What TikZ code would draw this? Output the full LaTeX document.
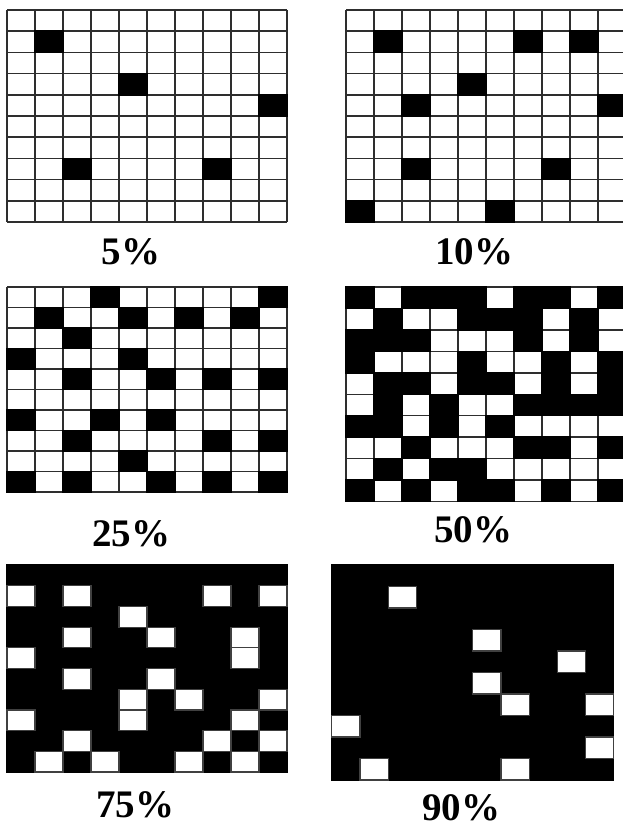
\documentclass[tikz,border=0pt]{standalone}
\usepackage{fontspec}
\setmainfont{Liberation Serif}
\tikzset{
  gridline/.style={draw=black!82, line width=1.5pt},
  blackcell/.style={fill=black, draw=black, line width=1.5pt},
  whitecell/.style={fill=white, draw=black!75, line width=1.2pt},
  pctlabel/.style={inner sep=0pt, font=\fontsize{39}{39}\selectfont\bfseries}
}
% light grid: white background, grid lines, black cells
\newcommand{\lightgrid}[5]{%
  \begin{scope}[shift={(#1,#2)}]
    \foreach \k in {0,...,10} {
      \draw[gridline] (\k*#3,0) -- (\k*#3,10*#4);
      \draw[gridline] (0,\k*#4) -- (10*#3,\k*#4);
    }
    \foreach \r/\c in {#5} {
      \path[blackcell] (\c*#3,\r*#4) rectangle ++(#3,#4);
    }
  \end{scope}}
% dark grid: black background, white cells
\newcommand{\darkgrid}[5]{%
  \begin{scope}[shift={(#1,#2)}]
    \path[blackcell] (0,0) rectangle (10*#3,10*#4);
    \foreach \r/\c in {#5} {
      \path[whitecell] (\c*#3,\r*#4) rectangle ++(#3,#4);
    }
  \end{scope}}
\begin{document}
\begin{tikzpicture}[x=1pt, y=-1pt]
\useasboundingbox (0,0) rectangle (623,828);
\clip (0,0) rectangle (623,828);
% 5%
\lightgrid{7}{10}{28}{21.2}{1/1,3/4,4/9,7/2,7/7}
% 10%
\lightgrid{346}{10}{28}{21.2}{1/1,1/6,1/8,3/4,4/2,4/9,7/2,7/7,9/0,9/5}
% 25%
\lightgrid{7}{287}{28}{20.5}{0/3,0/9,1/1,1/4,1/6,1/8,2/2,3/0,3/4,4/2,4/5,4/7,4/9,6/0,6/3,6/5,7/2,7/7,7/9,8/4,9/0,9/2,9/5,9/7,9/9}
% 50%
\begin{scope}[shift={(346,287)}]
  \foreach \k in {0,...,10} {
    \draw[gridline] (\k*28,0) -- (\k*28,10*21.45);
    \draw[gridline] (0,\k*21.45) -- (280,\k*21.45);
  }
  \foreach \r/\c in {0/0,0/2,0/3,0/4,0/6,0/7,0/9,
                     1/1,1/4,1/5,1/6,1/8,
                     2/0,2/1,2/2,2/6,2/8,
                     3/0,3/4,3/7,3/9,
                     4/1,4/2,4/4,4/5,4/7,4/9,
                     5/1,5/3,5/6,5/7,5/8,5/9,
                     6/0,6/1,6/3,6/5,
                     7/2,7/6,7/7,7/9,
                     8/1,8/3,8/4,
                     9/0,9/2,9/4,9/5,9/7,9/9} {
    \path[blackcell] (\c*28,\r*21.45) rectangle ++(28,21.45);
  }
\end{scope}
% 75%
\darkgrid{7}{565}{28}{20.7}{1/0,1/2,1/7,1/9,2/4,3/2,3/5,3/8,4/0,4/8,5/2,5/5,6/4,6/6,6/9,7/0,7/4,7/8,8/2,8/7,8/9,9/1,9/3,9/6,9/8}
% 90%
\darkgrid{331.7}{565}{28.2}{21.5}{1/2,3/5,4/8,5/5,6/6,6/9,7/0,8/9,9/1,9/6}
% labels
\node[pctlabel] (l5)  at (131,252) {5\%};
\node[pctlabel] (l10) at (474,252) {10\%};
\node[pctlabel] (l25) at (131,534) {25\%};
\node[pctlabel] (l50) at (473,530) {50\%};
\node[pctlabel] (l75) at (135,805) {75\%};
\node[pctlabel] (l90) at (461,808) {90\%};
\end{tikzpicture}
\end{document}
